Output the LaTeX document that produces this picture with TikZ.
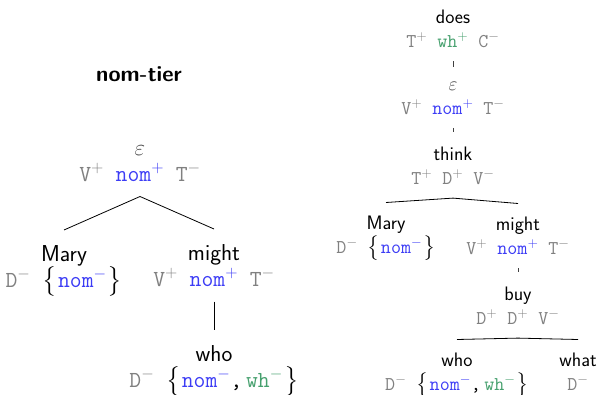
\RequirePackage{fix-cm}
\documentclass[tikz,border=0pt]{standalone}
\usepackage{exscale}
\usepackage{tikz}
\definecolor{featgray}{RGB}{128,128,128}
\definecolor{nomblue}{RGB}{60,60,245}
\definecolor{whgreen}{RGB}{70,160,110}
\newcommand{\fg}[2]{\textcolor{featgray}{#1$^{#2}$}}
\newcommand{\fnom}[1]{\textcolor{nomblue}{nom$^{#1}$}}
\newcommand{\fwh}[1]{\textcolor{whgreen}{wh$^{#1}$}}
\newcommand{\eps}{\textcolor{black!70}{$\varepsilon$}}
\newcommand{\setof}[1]{\mbox{$\left\{\vphantom{\rule{0pt}{0.875em}}\right.$}#1\mbox{$\left.\vphantom{\rule{0pt}{0.875em}}\right\}$}}
\tikzset{
  lexL/.style={align=center, anchor=north, inner xsep=0pt, inner ysep=15pt, font=\sffamily\fontsize{23}{26}\selectfont},
  lexR/.style={align=center, anchor=north, inner xsep=0pt, inner ysep=13.5pt, font=\sffamily\fontsize{19.5}{23.5}\selectfont},
  branch/.style={line width=0.8pt, draw=black},
  tick/.style={line width=0.8pt, draw=black!75, shorten >=1.5pt},
  title/.style={anchor=base, font=\sffamily\bfseries\fontsize{22}{24}\selectfont}
}
\begin{document}
\begin{tikzpicture}[x=1pt,y=-1pt]
  \useasboundingbox (0,0) rectangle (600,395);

  % left tree
  \node[title] (tier) at (139,82) {nom-tier};
  \node[lexL] (epsL) at (140,145-15) {\eps\\ \ttfamily\fg{V}{+} \fnom{+} \fg{T}{-}};
  \node[lexL] (maryL) at (64,245-15) {Mary\\ \ttfamily\fg{D}{-} \setof{\fnom{-}}};
  \node[lexL] (mightL) at (214,244-15) {might\\ \ttfamily\fg{V}{+} \fnom{+} \fg{T}{-}};
  \node[lexL] (whoL) at (214,345-15) {who\\ \ttfamily\fg{D}{-} \setof{\fnom{-},\,\fwh{-}}};

  \draw[branch] (epsL.south) -- (maryL.north);
  \draw[branch] (epsL.south) -- (mightL.north);
  \draw[branch] (mightL.south) -- (whoL.north);

  % right tree
  \node[lexR] (doesR) at (453,10-13.5) {does\\ \ttfamily\fg{T}{+} \fwh{+} \fg{C}{-}};
  \node[lexR] (epsR) at (453,82-13.5) {\eps\\ \ttfamily\fg{V}{+} \fnom{+} \fg{T}{-}};
  \node[lexR] (thinkR) at (453,147-13.5) {think\\ \ttfamily\fg{T}{+} \fg{D}{+} \fg{V}{-}};
  \node[lexR] (maryR) at (386,216-13.5) {Mary\\ \ttfamily\fg{D}{-} \setof{\fnom{-}}};
  \node[lexR] (mightR) at (518,217-13.5) {might\\ \ttfamily\fg{V}{+} \fnom{+} \fg{T}{-}};
  \node[lexR] (buyR) at (518,287-13.5) {buy\\ \ttfamily\fg{D}{+} \fg{D}{+} \fg{V}{-}};
  \node[lexR] (whoR) at (457,353-13.5) {who\\ \ttfamily\fg{D}{-} \setof{\fnom{-},\,\fwh{-}}};
  \node[lexR] (whatR) at (578,353-13.5) {what\\ \ttfamily\fg{D}{-}};

  \draw[tick] (doesR.south) -- (epsR.north);
  \draw[tick] (epsR.south) -- (thinkR.north);
  \draw[branch] (thinkR.south) -- (maryR.north);
  \draw[branch] (thinkR.south) -- (mightR.north);
  \draw[tick] (mightR.south) -- (buyR.north);
  \draw[branch] (buyR.south) -- (whoR.north);
  \draw[branch] (buyR.south) -- (whatR.north);
\end{tikzpicture}
\end{document}
